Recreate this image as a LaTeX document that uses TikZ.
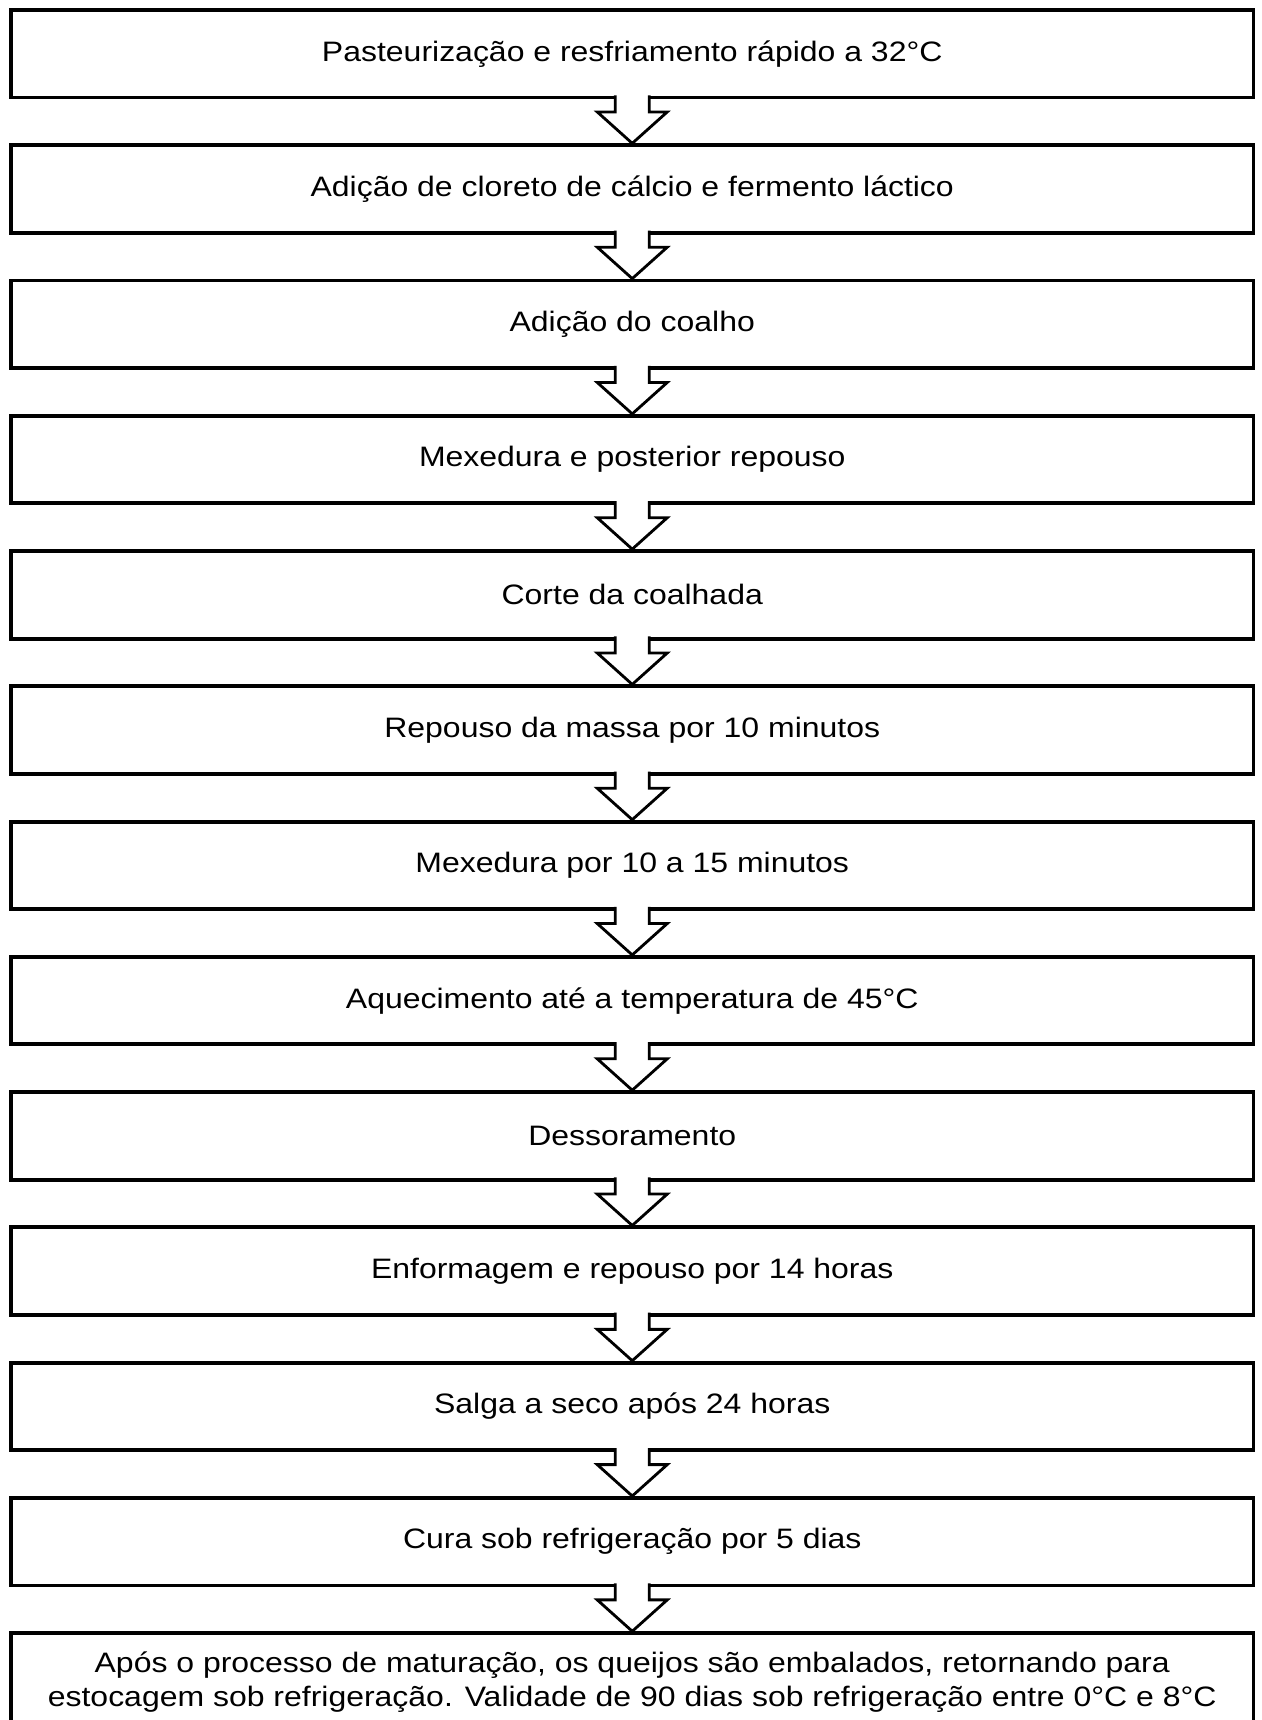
\documentclass[tikz,border=0pt]{standalone}
\usepackage{fontspec}
\setmainfont{Liberation Sans}[FakeStretch=1.137]
\usetikzlibrary{positioning,calc}

\tikzset{
  etapa/.style={draw, line width=2.2pt, minimum width=24.85cm, minimum height=1.75cm,
    inner sep=0pt, align=center, font=\fontsize{16}{19.3}\selectfont},
  seta/.style={draw, line width=1.6pt, fill=white, line join=miter},
}

\begin{document}
\begin{tikzpicture}[node distance=0.878cm]

    \useasboundingbox (0,0) rectangle (25.22,-34.4);
    \clip (0,0) rectangle (25.22,-34.4);

    \node[etapa] (e1) at (12.645,-1.075) {Pasteurização e resfriamento rápido a 32°C};
    \node[etapa, below=of e1] (e2) {Adição de cloreto de cálcio e fermento láctico};
    \node[etapa, below=of e2] (e3) {Adição do coalho};
    \node[etapa, below=of e3] (e4) {Mexedura e posterior repouso};
    \node[etapa, below=of e4] (e5) {Corte da coalhada};
    \node[etapa, below=of e5] (e6) {Repouso da massa por 10 minutos};
    \node[etapa, below=of e6] (e7) {Mexedura por 10 a 15 minutos};
    \node[etapa, below=of e7] (e8) {Aquecimento até a temperatura de 45°C};
    \node[etapa, below=of e8] (e9) {Dessoramento};
    \node[etapa, below=of e9] (e10) {Enformagem e repouso por 14 horas};
    \node[etapa, below=of e10] (e11) {Salga a seco após 24 horas};
    \node[etapa, below=of e11] (e12) {Cura sob refrigeração por 5 dias};
    \node[etapa, below=of e12, minimum height=1.96cm] (e13) {Após o processo de maturação, os queijos são embalados, retornando para\\estocagem sob refrigeração. Validade de 90 dias sob refrigeração entre 0°C e 8°C};

    % setas
    \foreach \a/\b in {e1/e2,e2/e3,e3/e4,e4/e5,e5/e6,e6/e7,e7/e8,e8/e9,e9/e10,e10/e11,e11/e12,e12/e13}
        \draw[seta] ($(\a.south)+(-0.34,0.082)$) -- ++(0,-0.332) -- ++(-0.36,0) -- (\b.north)
            -- ($(\a.south)+(0.7,-0.25)$) -- ++(-0.36,0) -- ++(0,0.332);

\end{tikzpicture}
\end{document}
